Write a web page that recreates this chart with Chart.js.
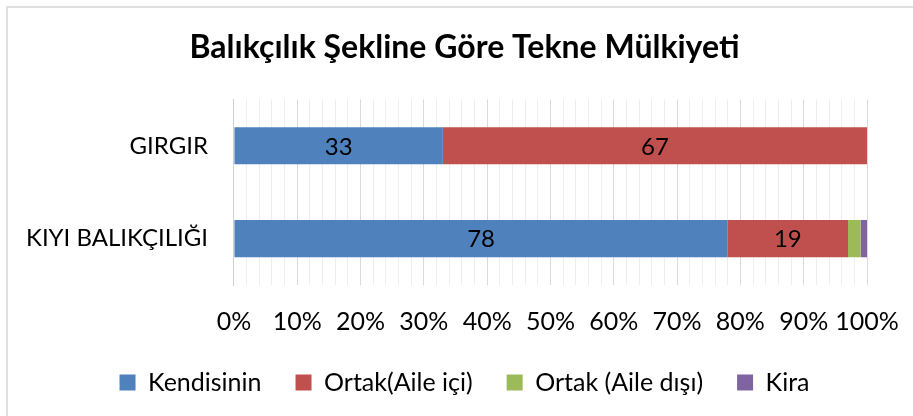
<!DOCTYPE html>
<html>
<head>
<meta charset="utf-8">
<script src="https://cdn.jsdelivr.net/npm/chart.js@4/dist/chart.umd.min.js"></script>
<style>
html,body{margin:0;padding:0;background:#fff;overflow:hidden;}
#wrap{width:913px;height:416px;position:relative;}
#frame{position:absolute;left:6px;top:6px;width:920px;height:420px;border-left:2px solid #e0e0e0;border-top:2px solid #e0e0e0;pointer-events:none;}
canvas{position:absolute;left:0;top:0;}
</style>
</head>
<body>
<div id="wrap"><canvas id="c" width="913" height="416"></canvas><div id="frame"></div></div>
<script>
const categories = ["GIRGIR", "KIYI BALIKÇILIĞI"];
const seriesNames = ["Kendisinin", "Ortak(Aile içi)", "Ortak (Aile dışı)", "Kira"];
const kendisinin = [33, 78];
const ortakAileIci = [67, 19];
const ortakAileDisi = [0, 2];
const kira = [0, 1];
const seriesColors = ["#4f81bd", "#c0504d", "#9bbb59", "#8064a2"];
const titleText = "Balıkçılık Şekline Göre Tekne Mülkiyeti";

const FONT = "Lato, 'Open Sans', sans-serif";

const labelPlugin = {
  id: 'barLabels',
  afterDatasetsDraw(chart) {
    const ctx = chart.ctx;
    ctx.save();
    ctx.font = "24px " + FONT;
    ctx.fillStyle = "#000";
    ctx.textAlign = "center";
    ctx.textBaseline = "middle";
    chart.data.datasets.forEach((ds, i) => {
      const meta = chart.getDatasetMeta(i);
      meta.data.forEach((el, j) => {
        const v = ds.data[j];
        if (v >= 5) {
          const p = el.getCenterPoint();
          ctx.fillText(String(v), p.x, p.y + 1);
        }
      });
    });
    ctx.restore();
  }
};

const allSeries = [kendisinin, ortakAileIci, ortakAileDisi, kira];

new Chart(document.getElementById('c'), {
  type: 'bar',
  data: {
    labels: categories,
    datasets: allSeries.map((d, i) => ({
      label: seriesNames[i],
      data: d,
      backgroundColor: seriesColors[i],
      borderWidth: 0,
      barPercentage: 0.4,
      categoryPercentage: 1.0
    }))
  },
  options: {
    indexAxis: 'y',
    responsive: false,
    animation: false,
    layout: { padding: { left: 18, right: 2, top: 10, bottom: 11 } },
    plugins: {
      title: {
        display: true,
        text: titleText,
        color: "#000",
        font: { family: FONT, size: 32, weight: 'bold' },
        padding: { top: 18, bottom: 33 }
      },
      legend: {
        position: 'bottom',
        labels: {
          color: "#000",
          font: { family: FONT, size: 25 },
          boxWidth: 16,
          boxHeight: 16,
          padding: 34
        }
      },
      tooltip: { enabled: false }
    },
    scales: {
      x: {
        stacked: true,
        min: 0,
        max: 100,
        afterFit: (s) => { s.height -= 23; s.paddingRight = 46; },
        ticks: {
          stepSize: 2,
          autoSkip: false,
          maxRotation: 0,
          color: "#000",
          font: { family: FONT, size: 25 },
          padding: 22,
          callback: (v) => (v % 10 === 0 ? v + "%" : "")
        },
        grid: {
          drawTicks: false,
          color: (c) => (c.tick && c.tick.value % 10 === 0 ? "#d9d9d9" : "#eeeeee"),
          lineWidth: 1
        },
        border: { display: false }
      },
      y: {
        stacked: true,
        afterFit: (s) => { s.width -= 18; },
        ticks: {
          color: "#000",
          font: { family: FONT, size: 24 },
          padding: 26
        },
        grid: { display: false, drawTicks: false },
        border: { display: true, color: "#d0d0d0" }
      }
    }
  },
  plugins: [labelPlugin]
});
</script>
</body>
</html>
